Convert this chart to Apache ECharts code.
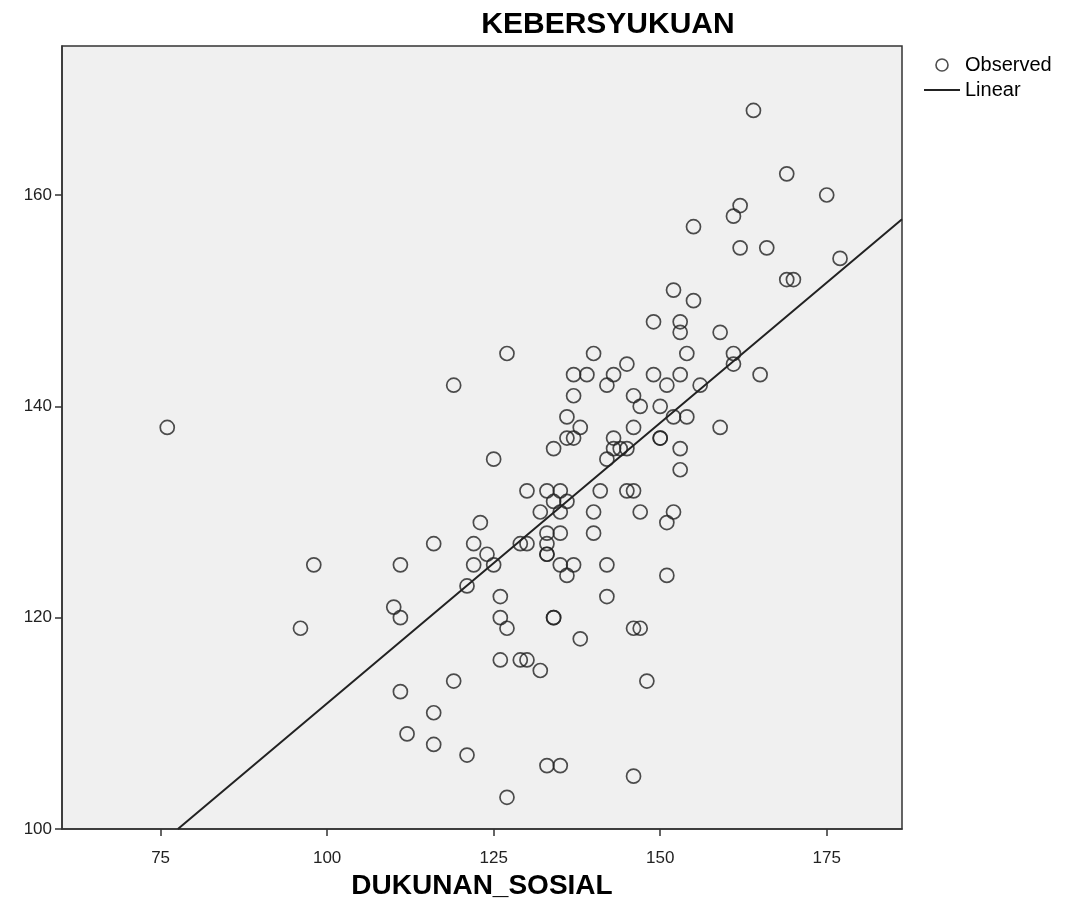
<!DOCTYPE html>
<html>
<head>
<meta charset="utf-8">
<script src="https://cdn.jsdelivr.net/npm/echarts@6/dist/echarts.min.js"></script>
<style>
html,body{margin:0;padding:0;background:#fff;}
#c{width:1069px;height:921px;}
</style>
</head>
<body>
<div id="c"></div>
<script>
// Observed points (DUKUNAN_SOSIAL, KEBERSYUKUAN)
const obsX = [76,98,96,110,111,111,111,112,116,116,116,119,119,121,121,122,122,123,124,125,125,126,126,126,127,127,127,129,130,129,130,130,132,132,133,133,133,133,133,134,134,134,135,135,135,135,135,136,136,136,136,137,137,137,137,138,138,139,140,140,140,141,142,142,142,142,143,143,143,144,145,145,145,146,146,146,146,146,147,147,147,148,149,149,150,150,151,151,151,152,152,152,153,153,153,153,153,154,154,155,155,156,159,159,161,161,161,162,162,164,165,166,169,169,170,175,177,150,134,133];
const obsY = [138,125,119,121,125,120,113,109,127,111,108,142,114,123,107,127,125,129,126,135,125,122,120,116,145,119,103,127,127,116,116,132,130,115,132,128,127,126,106,136,131,120,132,130,128,125,106,139,137,131,124,143,141,137,125,138,118,143,145,130,128,132,142,135,125,122,143,137,136,136,136,144,132,132,141,138,119,105,140,130,119,114,148,143,140,137,142,129,124,151,139,130,148,147,143,136,134,145,139,157,150,142,147,138,158,145,144,159,155,168,143,155,162,152,152,160,154,137,120,126];
// Linear fit line end points
const fitX = [77.6, 186.3];
const fitY = [100, 157.7];
// Axis ticks
const xTicks = [75, 100, 125, 150, 175];
const yTicks = [100, 120, 140, 160];

const obsData = obsX.map((x, i) => [x, obsY[i]]);
const fitData = fitX.map((x, i) => [x, fitY[i]]);
const font = 'Liberation Sans, Arial, sans-serif';

const chart = echarts.init(document.getElementById('c'));
chart.setOption({
  animation: false,
  backgroundColor: '#ffffff',
  title: {
    text: 'KEBERSYUKUAN',
    left: 603, top: 5, textAlign: 'center',
    textStyle: {fontFamily: font, fontSize: 30, fontWeight: 'bold', color: '#000'}
  },
  legend: {
    orient: 'vertical', left: 919, top: 50, itemGap: 5,
    itemWidth: 36, itemHeight: 12,
    textStyle: {fontFamily: font, fontSize: 20, color: '#000'},
    data: [
      {name: 'Observed', icon: 'circle', itemStyle: {color: '#fff', borderColor: '#222', borderWidth: 1.6}},
      {name: 'Linear', icon: 'path://M0,5 L36,5 L36,7 L0,7 Z', itemStyle: {color: '#222', borderWidth: 0}}
    ]
  },
  grid: {
    left: 62, right: 167, top: 46, bottom: 92,
    show: true, backgroundColor: '#f0f0f0', borderColor: '#333', borderWidth: 1.5
  },
  xAxis: {
    type: 'value', min: 60.2, max: 186.3,
    name: 'DUKUNAN_SOSIAL', nameLocation: 'middle', nameGap: 38,
    nameTextStyle: {fontFamily: font, fontSize: 28, fontWeight: 'bold', color: '#000'},
    axisLine: {show: true, onZero: false, lineStyle: {color: '#333', width: 1.5}},
    axisTick: {show: true, length: 7, customValues: xTicks, lineStyle: {color: '#333', width: 1.5}},
    axisLabel: {customValues: xTicks, margin: 21, fontFamily: font, fontSize: 17, color: '#222'},
    splitLine: {show: false}
  },
  yAxis: {
    type: 'value', min: 100, max: 174.1,
    axisLine: {show: true, onZero: false, lineStyle: {color: '#333', width: 1.5}},
    axisTick: {show: true, length: 7, customValues: yTicks, lineStyle: {color: '#333', width: 1.5}},
    axisLabel: {customValues: yTicks, margin: 10, fontFamily: font, fontSize: 17, color: '#222'},
    splitLine: {show: false}
  },
  series: [
    {
      name: 'Observed', type: 'scatter', data: obsData,
      symbol: 'circle', symbolSize: 14,
      itemStyle: {color: 'transparent', borderColor: '#222', borderWidth: 1.7}
    },
    {
      name: 'Linear', type: 'line', data: fitData, symbol: 'none',
      clip: true, lineStyle: {color: '#222', width: 2}
    }
  ]
});
</script>
</body>
</html>
